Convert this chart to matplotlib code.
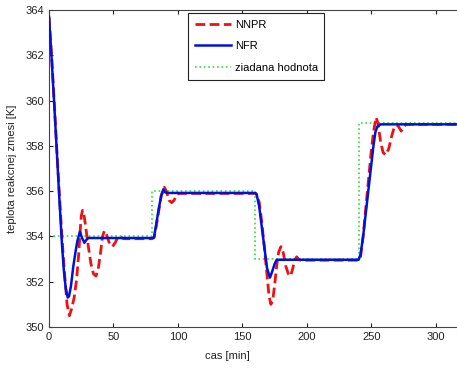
import matplotlib
matplotlib.use("Agg")
import matplotlib.pyplot as plt

# NNPR regulator
t_nnpr = [0, 2, 4, 6, 8, 10, 12, 14, 15.8, 17.5, 19.5, 21.4, 23, 24, 25, 26, 27,
          28.5, 30.5, 32.5, 34.5, 36.4, 38, 40, 41.5, 42.9, 44.5, 46.5, 49.3,
          51.5, 53.7, 56, 58, 80, 81.5, 83, 85, 87, 89.4, 91, 93, 95.1, 97, 99,
          101, 160, 161, 163, 165, 167, 169, 170.5, 172, 173.5, 175, 176.5, 178,
          179.8, 181.5, 183.5, 185.5, 187.3, 189, 190.5, 192, 193.5, 195, 240,
          241.5, 243.5, 245.5, 247.5, 249.5, 251.5, 253.5, 255, 257, 259, 261.2,
          263.5, 265.5, 267.5, 269.5, 271, 273, 275, 277, 330]
v_nnpr = [363.7, 362.0, 360.0, 357.9, 355.9, 354.0, 352.4, 351.0, 350.5, 350.8,
          351.3, 352.1, 353.2, 354.1, 354.9, 355.15, 355.0, 354.4, 353.55, 352.8,
          352.35, 352.25, 352.5, 353.3, 354.0, 354.25, 354.1, 353.75, 353.55,
          353.75, 354.0, 353.95, 353.9, 353.9, 353.95, 354.4, 355.1, 355.8,
          356.17, 356.0, 355.6, 355.49, 355.6, 355.85, 355.9, 355.9, 355.85,
          355.5, 354.6, 353.5, 352.3, 351.4, 351.0, 351.2, 351.9, 352.7, 353.3,
          353.55, 353.3, 352.7, 352.35, 352.25, 352.6, 352.95, 353.1, 353.0,
          352.95, 352.95, 353.1, 354.0, 355.2, 356.4, 357.6, 358.6, 359.26,
          359.0, 358.2, 357.7, 357.6, 357.9, 358.4, 358.8, 358.92, 358.85,
          358.65, 358.85, 358.95, 358.95]

# NFR regulator
t_nfr = [0, 2, 4, 6, 8, 10, 11.5, 13, 14.5, 15.5, 17, 18.8, 20.5, 22, 24, 25.5,
         27.4, 29, 30.5, 80, 81.4, 83, 85, 87, 88.6, 90, 92, 160, 161, 163, 165,
         167, 169, 171.3, 173, 175, 176.5, 240, 241.5, 243.5, 245.5, 247.5,
         249.5, 251.5, 253, 254.5, 257, 330]
v_nfr = [363.7, 361.9, 359.9, 357.8, 355.7, 353.7, 352.5, 351.7, 351.3, 351.35,
         351.8, 352.66, 353.3, 353.8, 354.21, 353.95, 353.72, 353.85, 353.93,
         353.93, 353.96, 354.5, 355.2, 355.8, 356.08, 355.95, 355.92, 355.92,
         355.85, 355.3, 354.4, 353.5, 352.6, 352.18, 352.45, 352.8, 352.97,
         352.97, 353.2, 354.0, 355.0, 356.0, 357.0, 358.0, 358.6, 358.85,
         358.95, 358.95]

# ziadana hodnota (setpoint)
t_ref = [0, 80, 160, 240, 330]
v_ref = [354, 356, 353, 359, 359]

plt.rcParams['font.family'] = ['Liberation Sans', 'DejaVu Sans']
fig = plt.figure(figsize=(4.57, 3.70), dpi=100)
ax = fig.add_axes([49 / 457, 43 / 370, 425.7 / 457, 317 / 370])

ax.plot(t_ref, v_ref, ':', color='#33dd33', lw=1.2, drawstyle='steps-post',
        label='ziadana hodnota', zorder=1)
ax.plot(t_nnpr, v_nnpr, '--', color='#ee1111', lw=2.0, dashes=(3.5, 1.6),
        label='NNPR', zorder=2)
ax.plot(t_nfr, v_nfr, '-', color='#0011dd', lw=1.8, label='NFR', zorder=3)

ax.set_xlim(0, 330)
ax.set_ylim(350, 364)
ax.set_xticks(range(0, 301, 50))
ax.set_yticks(range(350, 365, 2))
ax.tick_params(direction='in', top=True, right=True, labelsize=8, length=3,
               colors='#222222', width=0.8)
for s in ax.spines.values():
    s.set_color('#444444')
    s.set_linewidth(0.8)

ax.set_xlabel('cas [min]', fontsize=8, color='#222222')
ax.set_ylabel('teplota reakcnej zmesi [K]', fontsize=8, color='#222222')
ax.xaxis.set_label_coords(0.42, -0.075)
ax.yaxis.set_label_coords(-0.075, 0.5)

handles, labels = ax.get_legend_handles_labels()
order = [1, 2, 0]
leg = fig.legend([handles[i] for i in order], [labels[i] for i in order],
                 loc='upper left', bbox_to_anchor=(188 / 457, 1 - 13 / 370),
                 borderaxespad=0, fontsize=8, fancybox=False, framealpha=1,
                 edgecolor='#222222', handlelength=3.3, labelspacing=1.05,
                 handletextpad=0.3, borderpad=0.6)
leg.get_frame().set_linewidth(0.8)

fig.savefig('out.png', dpi=100)
